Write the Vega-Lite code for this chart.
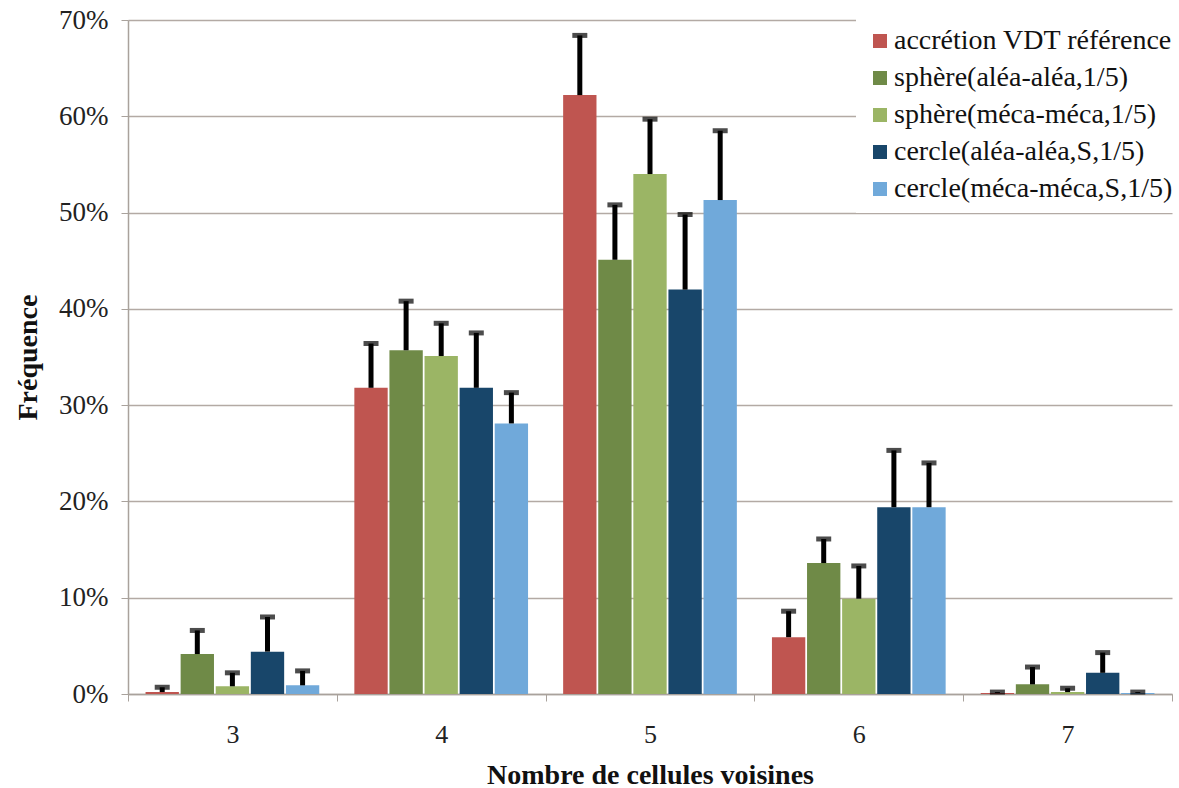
{
  "$schema": "https://vega.github.io/schema/vega-lite/v6.json",
  "width": 1044,
  "height": 674,
  "autosize": {"type": "none"},
  "padding": {"left": 128, "top": 20, "right": 7, "bottom": 94},
  "background": "white",
  "config": {
    "view": {"stroke": null},
    "font": "Liberation Serif"
  },
  "data": {
    "values": [
      {"cat": "3", "series": "accrétion VDT référence", "v": 0.002, "hi": 0.007},
      {"cat": "3", "series": "sphère(aléa-aléa,1/5)", "v": 0.0415, "hi": 0.066},
      {"cat": "3", "series": "sphère(méca-méca,1/5)", "v": 0.008, "hi": 0.022},
      {"cat": "3", "series": "cercle(aléa-aléa,S,1/5)", "v": 0.044, "hi": 0.080},
      {"cat": "3", "series": "cercle(méca-méca,S,1/5)", "v": 0.009, "hi": 0.024},
      {"cat": "4", "series": "accrétion VDT référence", "v": 0.318, "hi": 0.364},
      {"cat": "4", "series": "sphère(aléa-aléa,1/5)", "v": 0.357, "hi": 0.408},
      {"cat": "4", "series": "sphère(méca-méca,1/5)", "v": 0.351, "hi": 0.385},
      {"cat": "4", "series": "cercle(aléa-aléa,S,1/5)", "v": 0.318, "hi": 0.375},
      {"cat": "4", "series": "cercle(méca-méca,S,1/5)", "v": 0.281, "hi": 0.313},
      {"cat": "5", "series": "accrétion VDT référence", "v": 0.622, "hi": 0.684},
      {"cat": "5", "series": "sphère(aléa-aléa,1/5)", "v": 0.451, "hi": 0.508},
      {"cat": "5", "series": "sphère(méca-méca,1/5)", "v": 0.540, "hi": 0.597},
      {"cat": "5", "series": "cercle(aléa-aléa,S,1/5)", "v": 0.420, "hi": 0.498},
      {"cat": "5", "series": "cercle(méca-méca,S,1/5)", "v": 0.513, "hi": 0.585},
      {"cat": "6", "series": "accrétion VDT référence", "v": 0.059, "hi": 0.086},
      {"cat": "6", "series": "sphère(aléa-aléa,1/5)", "v": 0.136, "hi": 0.161},
      {"cat": "6", "series": "sphère(méca-méca,1/5)", "v": 0.099, "hi": 0.133},
      {"cat": "6", "series": "cercle(aléa-aléa,S,1/5)", "v": 0.194, "hi": 0.253},
      {"cat": "6", "series": "cercle(méca-méca,S,1/5)", "v": 0.194, "hi": 0.240},
      {"cat": "7", "series": "accrétion VDT référence", "v": 0.001, "hi": 0.002},
      {"cat": "7", "series": "sphère(aléa-aléa,1/5)", "v": 0.010, "hi": 0.028},
      {"cat": "7", "series": "sphère(méca-méca,1/5)", "v": 0.002, "hi": 0.006},
      {"cat": "7", "series": "cercle(aléa-aléa,S,1/5)", "v": 0.022, "hi": 0.043},
      {"cat": "7", "series": "cercle(méca-méca,S,1/5)", "v": 0.001, "hi": 0.002}
    ]
  },
  "encoding": {
    "x": {
      "field": "cat",
      "type": "nominal",
      "scale": {"paddingInner": 0, "paddingOuter": 0},
      "axis": {
        "title": "Nombre de cellules voisines",
        "labelAngle": 0,
        "labelFont": "Liberation Serif",
        "labelFontSize": 26,
        "labelColor": "#222222",
        "labelPadding": 20,
        "titleFont": "Liberation Serif",
        "titleFontSize": 28,
        "titleFontWeight": "bold",
        "titleColor": "#111111",
        "titlePadding": 14,
        "tickBand": "extent",
        "tickSize": 7,
        "tickColor": "#a9a29c",
        "domainColor": "#a9a29c",
        "domainWidth": 1.5,
        "grid": false
      }
    },
    "xOffset": {
      "field": "series",
      "type": "nominal",
      "scale": {
        "domain": ["accrétion VDT référence", "sphère(aléa-aléa,1/5)", "sphère(méca-méca,1/5)", "cercle(aléa-aléa,S,1/5)", "cercle(méca-méca,S,1/5)"],
        "paddingInner": 0.05,
        "paddingOuter": 0.5
      }
    }
  },
  "layer": [
    {
      "mark": {"type": "bar"},
      "encoding": {
        "y": {
          "field": "v",
          "type": "quantitative",
          "scale": {"domain": [0, 0.7], "nice": false},
          "axis": {
            "title": "Fréquence",
            "values": [0, 0.1, 0.2, 0.3, 0.4, 0.5, 0.6, 0.7],
            "format": ".0%",
            "labelFont": "Liberation Serif",
            "labelFontSize": 27,
            "labelColor": "#222222",
            "labelPadding": 13,
            "titleFont": "Liberation Serif",
            "titleFontSize": 28,
            "titleFontWeight": "bold",
            "titleColor": "#111111",
            "titlePadding": 16,
            "grid": true,
            "gridColor": "#b3aaa4",
            "gridWidth": 1.5,
            "tickColor": "#a9a29c",
            "tickSize": 7,
            "domainColor": "#a9a29c",
            "domainWidth": 1.5
          }
        },
        "color": {
          "field": "series",
          "type": "nominal",
          "scale": {
            "domain": ["accrétion VDT référence", "sphère(aléa-aléa,1/5)", "sphère(méca-méca,1/5)", "cercle(aléa-aléa,S,1/5)", "cercle(méca-méca,S,1/5)"],
            "range": ["#bf5550", "#6f8a47", "#9bb565", "#18466a", "#70a9da"]
          },
          "legend": {
            "title": null,
            "orient": "none",
            "legendX": 728,
            "legendY": -3,
            "fillColor": "white",
            "padding": 10,
            "symbolType": "square",
            "symbolSize": 196,
            "symbolStrokeWidth": 0,
            "labelFont": "Liberation Serif",
            "labelFontSize": 28,
            "labelColor": "#111111",
            "labelOffset": 0,
            "rowPadding": 9,
            "labelLimit": 400
          }
        }
      }
    },
    {
      "mark": {"type": "rule", "color": "black", "strokeWidth": 5},
      "encoding": {
        "y": {"field": "v", "type": "quantitative"},
        "y2": {"field": "hi"}
      }
    },
    {
      "mark": {"type": "tick", "color": "black", "thickness": 5, "size": 15},
      "encoding": {
        "y": {"field": "hi", "type": "quantitative"}
      }
    }
  ]
}
